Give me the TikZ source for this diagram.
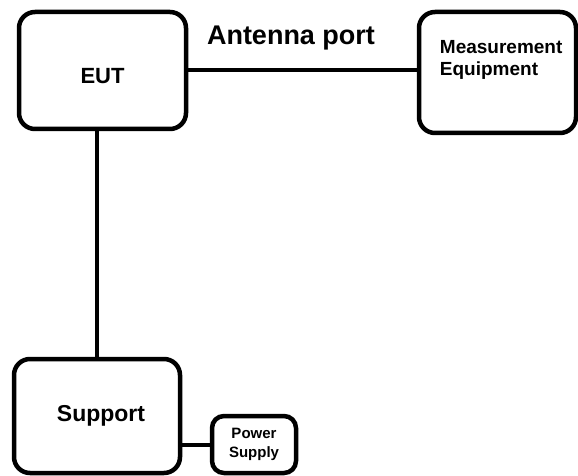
\documentclass[tikz,border=0pt]{standalone}
\usepackage{fontspec}
\setmainfont{Liberation Sans}
\usetikzlibrary{calc}

\tikzset{
  blk/.style={draw, line width=4.5pt, rounded corners=16pt, inner sep=0pt, font=\bfseries},
  wire/.style={line width=4pt}
}

\begin{document}
\begin{tikzpicture}[x=1pt,y=-1pt]
\useasboundingbox (0,0) rectangle (578,476);
\node[blk, minimum width=167pt, minimum height=117pt, text height=26pt, text depth=0pt, font=\bfseries\fontsize{22}{26}\selectfont] (eut) at (102.5,70.5) {EUT};
\node[blk, minimum width=157pt, minimum height=121pt] (meas) at (497.5,72.5) {};
\node[anchor=north west, inner sep=0pt, align=left, font=\bfseries\fontsize{19}{22}\selectfont] (meastext) at ($(meas.north west)+(23,30)$) {Measurement\\Equipment};
\node[blk, minimum width=166pt, minimum height=114pt, font=\bfseries\fontsize{23}{26}\selectfont] (sup) at (97,416) {\hspace{8pt}Support};
\node[blk, rounded corners=12pt, minimum width=84pt, minimum height=57pt, align=center, font=\bfseries\fontsize{15}{19}\selectfont] (pow) at (254,444.5) {Power\\Supply};
\node[font=\bfseries\fontsize{27}{30}\selectfont] (antport) at (291,38) {Antenna port};
\draw[wire] (eut.east) -- (eut.east -| meas.west);
\draw[wire] (eut.south -| sup.north) -- (sup.north);
\draw[wire] (pow.west -| sup.east) -- (pow.west);
\end{tikzpicture}
\end{document}
